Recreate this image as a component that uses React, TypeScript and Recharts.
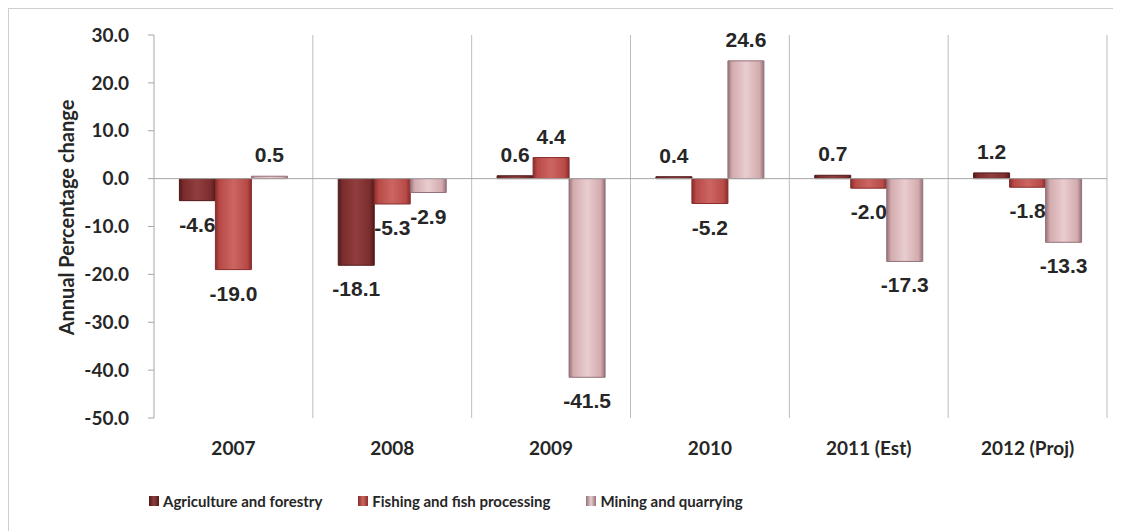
import { BarChart, Bar, XAxis, YAxis, CartesianGrid, ReferenceLine, Legend, LabelList } from "recharts";

const years = ["2007", "2008", "2009", "2010", "2011 (Est)", "2012 (Proj)"];
const agriculture = [-4.6, -18.1, 0.6, 0.4, 0.7, 1.2];
const fishing = [-19.0, -5.3, 4.4, -5.2, -2.0, -1.8];
const mining = [0.5, -2.9, -41.5, 24.6, -17.3, -13.3];
const yTicks = [-50, -40, -30, -20, -10, 0, 10, 20, 30];

const series = [
  { key: "agriculture", name: "Agriculture and forestry", edge: "#521a1a", mid: "#7a2c2c", light: "#923e3e" },
  { key: "fishing", name: "Fishing and fish processing", edge: "#882d2b", mid: "#b84a47", light: "#cc6662" },
  { key: "mining", name: "Mining and quarrying", edge: "#94717a", mid: "#d3abae", light: "#e8cdcf" },
];

const data = years.map((year, i) => ({
  year,
  agriculture: agriculture[i],
  fishing: fishing[i],
  mining: mining[i],
}));

const calibri = "Lato, 'Open Sans', sans-serif";

const ValueLabel = (props: any) => {
  const { x, y, width, height, value } = props;
  const top = Math.min(y, y + height);
  const bottom = Math.max(y, y + height);
  const cy = value >= 0 ? top - 22 : bottom + 23;
  return (
    <text x={x + width / 2} y={cy + 8} textAnchor="middle" fontFamily="'Liberation Sans', Arial, sans-serif"
      fontWeight="bold" fontSize={21} fill="#262626">
      {Number(value).toFixed(1)}
    </text>
  );
};

const YLabel = (props: any) => {
  const { viewBox } = props;
  const cy = viewBox.y + viewBox.height / 2 - 9;
  return (
    <text x={57} y={cy} transform={`rotate(-90, 57, ${cy})`} textAnchor="middle" dominantBaseline="central"
      fontFamily={calibri} fontWeight="bold" fontSize={20} fill="#262626">
      Annual Percentage change
    </text>
  );
};

const LegendBox = () => (
  <div style={{ display: "flex", alignItems: "center", height: 46, fontFamily: calibri, fontWeight: 700, fontSize: 15, color: "#262626" }}>
    {series.map((s) => (
      <div key={s.key} style={{ display: "flex", alignItems: "center", marginRight: 36 }}>
        <span style={{ display: "inline-block", width: 10, height: 10, marginRight: 4,
          background: `linear-gradient(to right, ${s.edge}, ${s.light} 50%, ${s.edge})` }} />
        {s.name}
      </div>
    ))}
  </div>
);

export default function App() {
  return (
    <div style={{ width: 1112, height: 522, borderLeft: "1px solid #cfcfcf", borderTop: "1px solid #cfcfcf", background: "#fff" }}>
      <BarChart width={1105} height={515} data={data} margin={{ top: 26, right: 7, left: 0, bottom: 0 }}
        barCategoryGap="16%" barGap={0}>
        <defs>
          {series.map((s) => (
            <linearGradient key={s.key} id={`grad-${s.key}`} x1="0" y1="0" x2="1" y2="0">
              <stop offset="0%" stopColor={s.edge} />
              <stop offset="12%" stopColor={s.mid} />
              <stop offset="50%" stopColor={s.light} />
              <stop offset="88%" stopColor={s.mid} />
              <stop offset="100%" stopColor={s.edge} />
            </linearGradient>
          ))}
        </defs>
        <CartesianGrid horizontal={false} stroke="#bdbdbd"
          verticalCoordinatesGenerator={({ offset }: any) =>
            years.map((_, i) => offset.left + ((i + 1) * offset.width) / years.length)} />
        <XAxis dataKey="year" axisLine={false} tickLine={false} height={60} tickMargin={18}
          tick={{ fontFamily: calibri, fontWeight: 700, fontSize: 19, fill: "#262626" }} />
        <YAxis width={145} domain={[-50, 30]} ticks={yTicks} interval={0} tickFormatter={(v: number) => v.toFixed(1)}
          axisLine={{ stroke: "#a6a6a6" }} tickLine={{ stroke: "#a6a6a6" }} tickSize={6} tickMargin={19}
          tick={{ fontFamily: calibri, fontWeight: 700, fontSize: 19, fill: "#262626" }}
          label={<YLabel />} />
        <ReferenceLine y={0} stroke="#a6a6a6" />
        {series.map((s) => (
          <Bar key={s.key} dataKey={s.key} name={s.name} fill={`url(#grad-${s.key})`} stroke={s.edge}
            strokeWidth={1} isAnimationActive={false}>
            <LabelList dataKey={s.key} content={<ValueLabel />} />
          </Bar>
        ))}
        <Legend verticalAlign="bottom" height={46} content={<LegendBox />}
          wrapperStyle={{ left: 140, width: 800, bottom: 0 }} />
      </BarChart>
    </div>
  );
}
